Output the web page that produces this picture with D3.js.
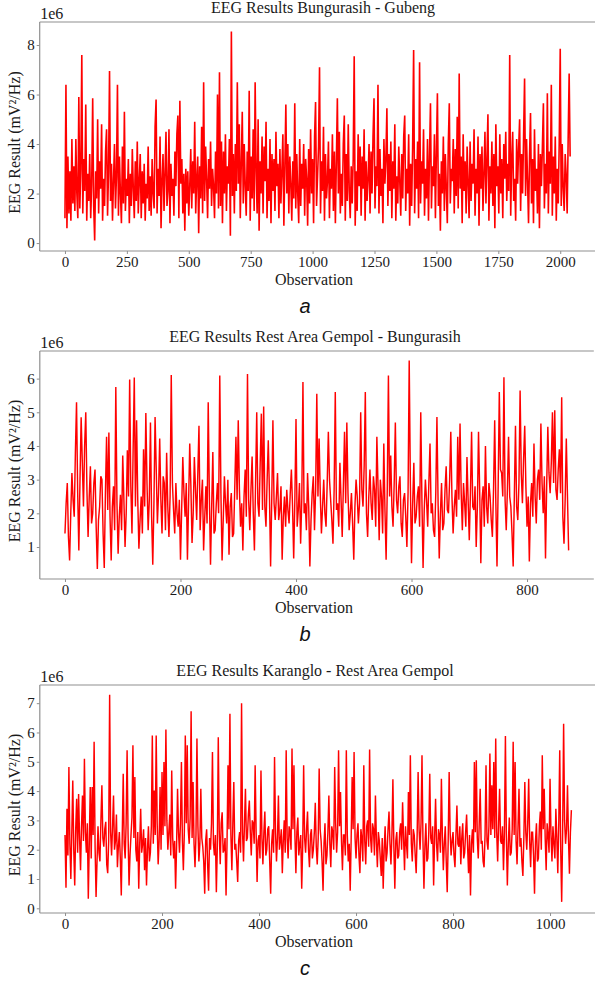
<!DOCTYPE html>
<html>
<head>
<meta charset="utf-8">
<script src="https://cdn.jsdelivr.net/npm/d3@7"></script>
<style>
  html, body { margin: 0; padding: 0; background: #fff; }
  svg { display: block; }
</style>
</head>
<body>
<svg id="chart" width="595" height="982"></svg>
<script>
// ---------------- DATA (values in units of 1e6 mV²/Hz) ----------------
const titleA = "EEG Results Bungurasih - Gubeng";
const titleB = "EEG Results Rest Area Gempol - Bungurasih";
const titleC = "EEG Results Karanglo - Rest Area Gempol";
const panelLetters = ["a", "b", "c"];
const xLabel = "Observation";
const yLabel = "EEG Result (mV\u00B2/Hz)";
const scaleLabel = "1e6";

// observation step between stored samples
const obsStepA = 4;
const obsStepB = 2;
const obsStepC = 2;

const valuesA = [
  1.0, 6.4, 0.6, 3.5, 1.2, 2.9, 0.9, 4.2, 1.6, 3.1,
  1.3, 4.2, 2.0, 1.0, 5.9, 1.4, 3.0, 7.6, 1.2, 3.4,
  2.1, 5.6, 0.9, 2.8, 1.7, 3.6, 1.0, 2.4, 5.85, 1.5,
  0.1, 2.9, 1.8, 5.0, 1.2, 3.3, 2.2, 4.8, 0.9, 2.6,
  1.5, 3.7, 4.6, 1.1, 2.9, 6.95, 1.7, 3.2, 0.9, 2.5,
  4.0, 1.4, 2.7, 6.4, 1.1, 3.5, 2.0, 0.8, 3.9, 1.6,
  5.3, 1.3, 2.6, 1.9, 3.4, 0.8, 2.8, 1.5, 3.8, 2.2,
  1.0, 3.3, 1.7, 4.1, 1.2, 2.5, 3.6, 1.0, 2.9, 1.6,
  3.2, 0.9, 2.4, 1.8, 3.9, 1.3, 2.7, 1.1, 3.4, 2.0,
  1.4, 4.7, 5.8, 1.2, 3.0, 1.9, 4.3, 0.6, 2.5, 3.6,
  1.3, 2.8, 4.5, 1.5, 2.1, 4.6, 0.8, 3.2, 1.9, 2.6,
  1.1, 3.7, 2.3, 4.4, 5.15, 1.0, 5.75, 2.4, 3.4, 1.2,
  2.8, 0.5, 3.0, 1.6, 2.9, 1.1, 2.3, 3.8, 1.4, 3.3,
  2.0, 4.9, 1.2, 2.6, 3.5, 0.4, 3.1, 1.8, 4.7, 1.2,
  6.5, 1.7, 3.9, 2.6, 1.0, 3.4, 2.2, 4.1, 1.5, 3.0,
  2.3, 1.0, 3.7, 2.0, 6.0, 1.4, 6.9, 1.5, 4.1, 0.8,
  3.7, 2.0, 4.4, 1.3, 3.1, 2.4, 4.2, 0.3, 8.55, 1.9,
  3.6, 1.2, 4.0, 2.1, 6.5, 2.4, 4.8, 1.0, 3.2, 5.3,
  1.6, 4.0, 2.3, 1.1, 3.7, 2.1, 6.15, 0.9, 3.5, 1.8,
  4.6, 1.3, 6.5, 2.9, 1.2, 5.0, 0.5, 3.3, 2.0, 4.3,
  1.2, 3.9, 2.5, 4.9, 1.0, 3.0, 1.7, 4.2, 0.8, 3.6,
  2.1, 3.4, 1.3, 4.5, 2.3, 3.2, 1.0, 3.8, 1.6, 2.9,
  4.4, 0.7, 3.1, 5.6, 2.0, 4.0, 1.2, 3.5, 2.4, 0.9,
  3.3, 1.8, 5.65, 1.4, 3.6, 2.0, 0.8, 4.2, 1.5, 3.2,
  2.2, 4.0, 1.1, 3.4, 2.6, 0.7, 3.8, 1.6, 4.6, 2.0,
  3.4, 0.8, 4.3, 5.7, 1.5, 2.7, 3.9, 7.1, 1.2, 3.3,
  2.1, 4.7, 0.9, 3.6, 1.8, 2.5, 4.1, 1.0, 3.0, 2.2,
  4.4, 1.3, 3.7, 0.8, 3.3, 5.85, 2.0, 4.5, 1.2, 2.8,
  1.5, 4.0, 5.15, 0.9, 3.6, 1.7, 4.8, 2.1, 1.0, 3.1,
  1.6, 3.4, 7.55, 0.7, 2.9, 1.3, 4.4, 2.3, 3.9, 1.1,
  3.5, 2.2, 4.6, 0.9, 3.3, 1.7, 2.6, 4.0, 1.2, 3.7,
  2.0, 4.3, 5.85, 1.4, 3.1, 2.3, 6.4, 1.2, 3.8, 1.9,
  3.0, 0.8, 4.2, 2.4, 3.4, 5.45, 1.5, 3.6, 2.1, 4.1,
  1.0, 3.3, 2.2, 4.8, 0.9, 2.7, 1.6, 3.9, 2.5, 1.1,
  3.6, 1.8, 4.3, 5.15, 1.3, 3.0, 2.0, 4.4, 0.7, 3.2,
  1.5, 3.9, 7.8, 1.2, 3.4, 2.2, 4.1, 1.0, 7.3, 1.6,
  3.3, 2.4, 4.6, 1.1, 3.0, 1.8, 4.2, 0.9, 3.5, 5.65,
  1.4, 3.1, 2.3, 4.4, 1.0, 3.7, 6.05, 1.5, 2.8, 0.5,
  3.3, 2.0, 4.3, 1.3, 3.6, 2.2, 0.8, 4.0, 5.65, 1.6,
  3.0, 2.5, 4.2, 1.2, 3.8, 1.9, 5.1, 1.4, 6.85, 2.2,
  3.5, 0.8, 4.4, 2.1, 3.3, 1.2, 3.9, 2.4, 1.0, 4.1,
  1.7, 3.2, 2.4, 4.6, 1.1, 3.0, 2.0, 4.3, 0.7, 3.6,
  2.2, 3.9, 1.3, 2.8, 4.5, 1.6, 3.4, 5.2, 0.9, 3.1,
  2.0, 4.1, 1.5, 3.6, 0.6, 4.8, 2.3, 3.1, 1.2, 4.4,
  2.0, 3.4, 1.0, 4.0, 2.6, 4.5, 1.7, 3.2, 2.1, 7.6,
  1.1, 3.3, 4.5, 1.7, 2.6, 0.9, 4.2, 2.4, 3.8, 5.0,
  1.3, 3.6, 2.0, 4.3, 6.65, 1.9, 4.2, 2.5, 0.8, 3.5,
  5.25, 1.6, 3.4, 0.8, 4.6, 2.1, 3.0, 1.2, 4.0, 0.6,
  3.6, 2.3, 3.9, 5.65, 1.4, 3.2, 2.0, 6.05, 1.2, 3.7,
  2.4, 6.4, 1.1, 3.5, 2.0, 4.3, 0.9, 3.0, 1.6, 4.1,
  7.85, 1.5, 4.0, 2.2, 1.3, 3.6, 2.7, 1.2, 4.2, 6.85,
  3.5
];

const valuesB = [
  1.4, 2.3, 2.9, 1.3, 0.6, 2.0, 3.2, 2.4, 1.9, 3.8, 5.3, 2.6, 0.9, 3.0, 4.85, 3.5, 2.2, 4.0, 5.0, 2.7,
  1.3, 2.5, 3.4, 1.7, 2.0, 2.9, 3.3, 1.6, 0.35, 1.8, 2.2, 3.1, 3.0, 1.4, 0.38, 2.6, 4.27, 2.1, 4.4, 1.9,
  0.6, 2.2, 2.8, 1.5, 5.75, 2.3, 0.8, 1.9, 2.55, 1.5, 3.72, 2.4, 1.0, 2.0, 3.87, 2.5, 5.97, 2.8, 1.4, 3.9,
  6.03, 2.2, 4.76, 2.4, 0.95, 1.8, 2.5, 1.4, 3.9, 2.2, 4.98, 2.9, 1.5, 2.4, 4.7, 1.9, 0.47, 2.3, 4.86, 3.3,
  1.7, 2.6, 4.22, 2.4, 1.4, 3.1, 2.9, 1.5, 3.8, 2.2, 1.3, 2.5, 6.11, 2.9, 2.1, 1.4, 2.9, 2.0, 1.6, 2.4,
  0.62, 2.1, 3.67, 2.6, 1.9, 2.9, 0.62, 2.3, 4.07, 2.8, 1.12, 2.0, 3.67, 2.7, 1.8, 3.2, 4.6, 1.5, 2.4, 3.0,
  0.9, 1.9, 2.8, 1.7, 5.3, 2.5, 0.47, 2.2, 3.82, 1.4, 1.5, 2.3, 2.9, 2.0, 6.09, 2.6, 0.6, 1.8, 3.1, 2.3,
  1.7, 3.0, 0.77, 2.2, 2.6, 1.3, 1.4, 2.8, 4.27, 2.4, 4.76, 2.7, 1.6, 2.3, 0.9, 2.5, 3.3, 1.9, 6.14, 2.4,
  1.5, 2.7, 3.69, 2.0, 0.9, 2.9, 5.0, 2.3, 1.9, 3.5, 4.96, 2.1, 5.17, 2.2, 1.6, 3.0, 4.17, 2.6, 0.42, 2.4,
  4.76, 2.3, 1.8, 2.5, 3.2, 1.8, 2.1, 2.8, 0.62, 1.9, 2.5, 1.6, 2.7, 2.1, 1.7, 2.6, 3.3, 2.2, 0.66, 2.4,
  4.8, 1.6, 2.1, 2.9, 1.1, 2.4, 5.9, 2.0, 2.3, 1.5, 3.2, 2.2, 0.42, 1.8, 2.6, 3.1, 1.5, 2.7, 5.55, 2.5,
  4.22, 2.6, 1.4, 2.2, 3.0, 2.0, 1.6, 2.9, 4.42, 3.0, 2.4, 1.8, 1.1, 2.7, 5.6, 2.1, 2.3, 1.6, 3.5, 2.4,
  1.3, 2.8, 4.42, 2.3, 4.7, 2.6, 1.5, 2.0, 2.6, 1.7, 0.62, 2.2, 3.0, 2.5, 1.7, 2.3, 5.0, 2.7, 2.2, 3.4,
  5.6, 2.0, 1.3, 2.5, 3.3, 2.3, 1.8, 3.1, 2.7, 1.6, 4.27, 2.8, 1.2, 3.0, 2.5, 1.4, 4.07, 2.1, 0.62, 2.7,
  6.09, 2.5, 3.72, 2.2, 1.6, 2.9, 4.7, 2.4, 2.0, 2.8, 3.1, 1.7, 1.3, 2.4, 2.6, 1.9, 1.0, 2.6, 6.54, 2.9,
  0.52, 2.3, 3.5, 1.7, 1.9, 2.5, 2.8, 1.6, 5.0, 2.4, 0.38, 2.1, 3.0, 2.4, 1.6, 2.9, 4.07, 2.0, 2.3, 1.5,
  1.3, 2.6, 4.86, 2.3, 0.66, 2.0, 2.9, 1.5, 1.7, 2.7, 3.4, 2.1, 2.0, 3.0, 4.42, 2.5, 1.4, 2.2, 2.7, 1.9,
  4.27, 2.4, 4.67, 2.6, 1.5, 2.9, 2.3, 1.6, 3.67, 2.4, 1.2, 2.6, 4.42, 2.2, 2.1, 2.8, 1.0, 2.2, 4.42, 2.7,
  0.52, 2.4, 2.8, 1.6, 4.0, 2.2, 1.7, 2.9, 2.5, 1.8, 1.3, 2.7, 4.76, 2.3, 0.42, 2.8, 5.6, 3.3, 3.2, 2.5,
  6.04, 2.4, 1.5, 2.7, 4.27, 2.5, 2.2, 1.4, 0.42, 2.5, 4.6, 2.2, 1.8, 2.9, 5.65, 3.2, 2.3, 3.6, 4.6, 2.8,
  1.6, 2.5, 0.57, 2.3, 2.9, 1.9, 4.07, 2.5, 1.7, 3.0, 3.3, 2.4, 4.67, 2.9, 2.0, 3.1, 0.66, 2.8, 4.57, 3.2,
  2.6, 3.5, 5.0, 2.9, 5.06, 2.7, 2.4, 3.3, 3.9, 2.6, 5.45, 1.9, 1.1, 2.4, 4.22, 2.5, 0.9
];

const valuesC = [
  2.5, 0.7, 3.4, 1.8, 4.82, 2.2, 1.0, 2.6, 4.36, 2.0, 0.78, 2.7, 3.74, 1.9, 3.9, 2.4, 1.3, 2.8, 3.85, 2.3,
  5.1, 2.6, 1.9, 2.9, 0.33, 2.2, 4.14, 1.7, 4.14, 2.5, 5.68, 2.1, 0.39, 1.6, 2.8, 1.9, 1.6, 3.0, 4.2, 2.4,
  2.1, 2.7, 2.95, 1.5, 1.2, 2.3, 7.29, 2.6, 1.8, 2.8, 3.85, 2.0, 2.3, 3.2, 1.4, 2.1, 2.6, 1.7, 0.44, 2.5,
  4.59, 2.2, 1.7, 2.9, 5.39, 2.5, 0.78, 1.8, 2.5, 3.1, 5.56, 2.4, 4.48, 2.0, 1.6, 2.6, 0.67, 2.2, 3.4, 1.9,
  2.2, 2.7, 1.3, 2.4, 0.78, 2.0, 2.8, 1.6, 1.9, 2.8, 5.9, 2.2, 4.02, 2.5, 5.9, 2.9, 1.5, 2.3, 4.14, 2.0,
  4.65, 2.5, 4.99, 2.8, 6.1, 3.0, 2.0, 2.6, 3.2, 1.8, 4.7, 2.4, 1.7, 2.3, 0.67, 2.1, 4.08, 2.6, 1.9, 2.9,
  4.99, 2.3, 1.3, 2.6, 5.9, 2.9, 5.56, 2.7, 2.2, 3.1, 6.72, 2.4, 4.31, 2.2, 1.4, 2.5, 5.79, 2.8, 1.6, 2.2,
  4.08, 2.4, 2.1, 1.6, 0.5, 2.3, 2.7, 1.5, 0.6, 2.4, 2.0, 2.9, 5.33, 2.2, 1.8, 2.5, 0.55, 2.1, 5.84, 2.6,
  1.5, 2.9, 3.28, 1.9, 2.0, 2.4, 0.44, 2.2, 4.88, 2.7, 6.64, 2.5, 1.3, 2.9, 4.31, 2.0, 2.2, 1.6, 0.9, 2.3,
  2.6, 1.9, 7.0, 2.6, 1.6, 2.9, 4.08, 2.3, 2.4, 3.2, 3.68, 2.6, 1.8, 3.0, 2.9, 2.2, 4.88, 2.6, 0.9, 2.3,
  2.5, 1.7, 4.7, 2.4, 1.5, 2.6, 3.3, 1.8, 2.0, 2.7, 2.8, 1.6, 0.5, 2.2, 2.7, 1.9, 5.16, 2.6, 1.6, 2.4,
  3.85, 2.0, 2.3, 2.7, 1.2, 2.3, 3.0, 1.9, 5.39, 2.4, 1.7, 2.8, 2.6, 2.0, 5.45, 2.7, 4.88, 2.5, 1.2, 2.6,
  3.1, 1.8, 2.2, 2.5, 0.67, 2.1, 4.88, 2.4, 1.9, 2.7, 3.3, 2.0, 1.4, 2.5, 2.7, 1.7, 2.0, 2.6, 3.6, 2.1,
  1.5, 2.4, 4.77, 2.7, 2.3, 1.6, 0.6, 2.2, 2.9, 1.5, 1.8, 2.6, 3.85, 2.2, 1.4, 2.8, 2.6, 2.0, 4.82, 2.9,
  1.9, 2.6, 5.39, 2.8, 3.97, 2.3, 1.3, 2.5, 2.5, 1.8, 5.39, 2.5, 1.6, 2.2, 0.6, 2.4, 4.48, 2.7, 5.33, 2.4,
  1.7, 2.5, 2.9, 1.8, 1.2, 2.7, 2.4, 1.6, 4.88, 2.3, 1.5, 2.8, 3.0, 2.1, 5.42, 2.4, 1.9, 2.9, 2.7, 1.8,
  3.85, 2.3, 1.4, 2.6, 2.3, 1.7, 1.1, 2.4, 0.67, 2.0, 2.8, 1.6, 1.9, 2.7, 3.3, 2.2, 1.5, 2.5, 4.4, 2.1,
  0.67, 2.3, 2.6, 1.7, 1.8, 2.6, 2.9, 2.0, 3.62, 2.4, 1.3, 2.8, 2.2, 1.7, 3.97, 2.5, 5.22, 2.2, 1.6, 2.7,
  2.5, 1.8, 1.2, 2.5, 4.65, 2.7, 2.0, 2.9, 5.22, 2.3, 0.67, 2.1, 2.9, 1.6, 1.7, 2.6, 4.59, 2.4, 2.2, 2.8,
  0.78, 2.4, 3.74, 2.2, 1.6, 2.7, 2.5, 1.9, 4.42, 2.5, 1.3, 2.2, 2.8, 1.6, 0.55, 2.3, 4.65, 2.6, 1.8, 2.3,
  2.6, 1.8, 1.4, 2.5, 3.51, 2.2, 2.1, 2.8, 1.5, 2.4, 2.9, 1.7, 1.9, 2.6, 3.2, 2.1, 1.2, 2.5, 0.44, 2.2,
  2.7, 1.9, 4.99, 2.6, 5.05, 2.4, 1.7, 2.9, 4.08, 2.2, 2.3, 1.6, 1.4, 2.5, 4.88, 2.3, 2.0, 2.8, 5.28, 2.5,
  4.2, 2.7, 4.99, 2.4, 5.79, 2.6, 1.6, 2.9, 4.08, 2.3, 2.2, 2.8, 1.3, 2.6, 5.88, 2.4, 0.78, 2.2, 3.1, 1.8,
  1.9, 2.7, 5.68, 2.5, 4.99, 2.3, 1.5, 2.8, 4.08, 2.1, 2.4, 1.6, 1.1, 2.4, 4.31, 2.6, 2.0, 2.9, 4.42, 2.3,
  1.4, 2.6, 2.6, 1.8, 0.5, 2.3, 2.9, 1.6, 1.7, 2.8, 3.3, 2.0, 5.22, 2.7, 4.08, 2.4, 1.3, 2.9, 2.5, 1.9,
  4.42, 2.5, 1.6, 2.8, 2.2, 1.7, 3.4, 2.4, 1.2, 2.9, 5.39, 2.0, 0.22, 2.6, 6.3, 3.0, 2.2, 2.7, 4.2, 2.4,
  1.18, 2.6, 3.35
];

const xTicksA = [0, 250, 500, 750, 1000, 1250, 1500, 1750, 2000];
const yTicksA = [0, 2, 4, 6, 8];
const xTicksB = [0, 200, 400, 600, 800];
const yTicksB = [1, 2, 3, 4, 5, 6];
const xTicksC = [0, 200, 400, 600, 800, 1000];
const yTicksC = [0, 1, 2, 3, 4, 5, 6, 7];

// axis limits (data units)
const xLimA = [-102, 2142];
const yLimA = [-0.32, 8.93];
const xLimB = [-43.6, 915.6];
const yLimB = [0.05, 6.82];
const xLimC = [-52, 1096];
const yLimC = [-0.16, 7.62];

// ---------------- LAYOUT ----------------
const panels = [
  { values: valuesA, step: obsStepA, xLim: xLimA, yLim: yLimA, xTicks: xTicksA, yTicks: yTicksA,
    title: titleA, letter: panelLetters[0], top: 22, bottom: 251, left: 39.7, right: 595.4, titleX: 323, lw: 1.6 },
  { values: valuesB, step: obsStepB, xLim: xLimB, yLim: yLimB, xTicks: xTicksB, yTicks: yTicksB,
    title: titleB, letter: panelLetters[1], top: 351, bottom: 579, left: 39.8, right: 593.8, titleX: 315, lw: 1.45 },
  { values: valuesC, step: obsStepC, xLim: xLimC, yLim: yLimC, xTicks: xTicksC, yTicks: yTicksC,
    title: titleC, letter: panelLetters[2], top: 685, bottom: 913, left: 39.8, right: 596.6, titleX: 315, lw: 1.45 }
];

const serif = "'Liberation Serif', 'Times New Roman', serif";
const sans = "'Liberation Sans', Arial, sans-serif";
const spineColor = "#8f8f8f";
const textColor = "#1a1a1a";

const svg = d3.select("#chart");

panels.forEach(p => {
  const x = d3.scaleLinear().domain(p.xLim).range([p.left, p.right]);
  const y = d3.scaleLinear().domain(p.yLim).range([p.bottom, p.top]);
  const g = svg.append("g");

  // data line
  const data = p.values.map((v, i) => ({ obs: i * p.step, v }));
  const line = d3.line().x(d => x(d.obs)).y(d => y(d.v));
  g.append("path")
    .datum(data)
    .attr("d", line)
    .attr("fill", "none")
    .attr("stroke", "#ff0000")
    .attr("stroke-width", p.lw)
    .attr("stroke-linejoin", "miter");

  // axes
  const xAxis = d3.axisBottom(x).tickValues(p.xTicks).tickSize(3).tickPadding(2).tickFormat(d3.format("d"));
  const yAxis = d3.axisLeft(y).tickValues(p.yTicks).tickSize(3).tickPadding(2).tickFormat(d3.format("d"));

  const gx = g.append("g").attr("transform", `translate(0,${p.bottom})`).call(xAxis);
  const gy = g.append("g").attr("transform", `translate(${p.left},0)`).call(yAxis);
  [gx, gy].forEach(ax => {
    ax.select(".domain").remove();
    ax.selectAll(".tick line").attr("stroke", spineColor).attr("stroke-width", 1);
    ax.selectAll(".tick text")
      .attr("fill", textColor)
      .style("font-family", serif)
      .style("font-size", "15px");
  });
  gx.selectAll(".tick text").attr("dy", "0.76em");

  // spines: left, bottom, top
  g.append("line").attr("x1", p.left).attr("x2", p.left).attr("y1", p.top).attr("y2", p.bottom)
    .attr("stroke", spineColor).attr("stroke-width", 1.2);
  g.append("line").attr("x1", p.left).attr("x2", p.right).attr("y1", p.bottom).attr("y2", p.bottom)
    .attr("stroke", spineColor).attr("stroke-width", 1.2);
  g.append("line").attr("x1", p.left).attr("x2", p.right).attr("y1", p.top).attr("y2", p.top)
    .attr("stroke", spineColor).attr("stroke-width", 1.2);

  // title
  g.append("text")
    .attr("x", p.titleX).attr("y", p.top - 9)
    .attr("text-anchor", "middle")
    .attr("fill", textColor)
    .style("font-family", serif).style("font-size", "16px")
    .text(p.title);

  // offset label
  g.append("text")
    .attr("x", p.left + 0.5).attr("y", p.top - 3.5)
    .attr("fill", textColor)
    .style("font-family", serif).style("font-size", "16px")
    .text(scaleLabel);

  // y label
  const cy = (p.top + p.bottom) / 2 + 6;
  g.append("text")
    .attr("transform", `translate(20,${cy}) rotate(-90)`)
    .attr("text-anchor", "middle")
    .attr("fill", textColor)
    .style("font-family", serif).style("font-size", "16px")
    .text(yLabel);

  // x label
  g.append("text")
    .attr("x", 314).attr("y", p.bottom + 34)
    .attr("text-anchor", "middle")
    .attr("fill", textColor)
    .style("font-family", serif).style("font-size", "16px")
    .text(xLabel);

  // panel letter
  g.append("text")
    .attr("x", 305).attr("y", p.bottom + 62)
    .attr("text-anchor", "middle")
    .attr("fill", "#111")
    .style("font-family", sans).style("font-size", "20px").style("font-style", "italic")
    .text(p.letter);
});
</script>
</body>
</html>
